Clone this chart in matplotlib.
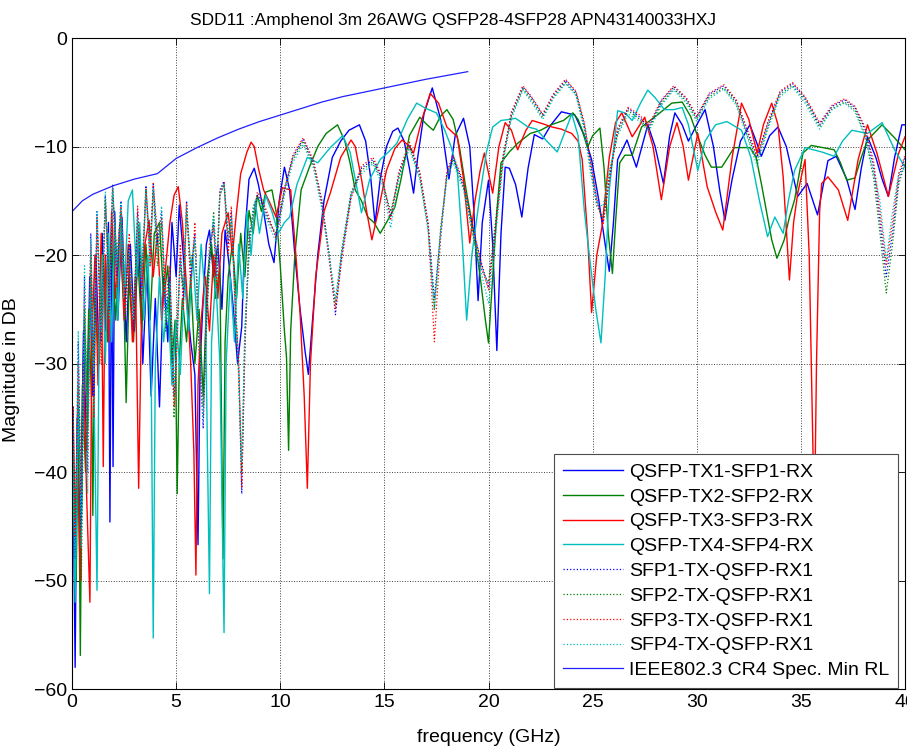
import numpy as np
import matplotlib
matplotlib.use('Agg')
import matplotlib.pyplot as plt

plt.rcParams['font.family'] = ['Liberation Sans', 'DejaVu Sans']

# (frequency GHz, magnitude dB)
tx1 = [(0.05,-40),(0.15,-58),(0.25,-35),(0.4,-46),(0.55,-27),(0.7,-38),(0.85,-22),(1.0,-33),(1.15,-20),(1.3,-30),
       (1.45,-18),(1.6,-27),(1.75,-17),(1.82,-44.6),(1.9,-18),(1.97,-39.5),(2.05,-16),(2.2,-26),(2.4,-16.5),(2.6,-28),
       (2.8,-19),(3.0,-27),(3.2,-18),(3.4,-30),(3.6,-21),(3.8,-33),(4.0,-24),(4.2,-34),(4.4,-22),(4.6,-28),
       (4.8,-17),(5.0,-22),(5.15,-15.4),(5.3,-19),(5.5,-24),(5.7,-28),(5.9,-31),(6.05,-46.7),(6.15,-30),(6.3,-24),
       (6.45,-19),(6.6,-17.7),(6.8,-22),(7.0,-19),(7.2,-25),(7.35,-17.7),(7.55,-21),(7.75,-25),(7.95,-30),(8.15,-26.6),
       (8.3,-18),(8.5,-13),(8.75,-12),(8.95,-13.5),(9.2,-16),(9.45,-19),(9.7,-20.7),(9.95,-15),(10.2,-11.9),(10.45,-14),
       (10.7,-20),(10.95,-25),(11.2,-29),(11.35,-31),(11.55,-26),(11.8,-20),(12.1,-15),(12.5,-11),(12.9,-9.5),(13.3,-8.5),
       (13.8,-8.0),(14.1,-9.5),(14.35,-13),(14.55,-17.1),(14.8,-13),(15.1,-10),(15.4,-8.6),(15.65,-8.3),(15.95,-9.5),(16.2,-12),
       (16.4,-14.3),(16.6,-11),(16.9,-7),(17.3,-4.6),(17.7,-7.5),(18.1,-13.0),(18.4,-9),(18.8,-7.4),(19.1,-10),(19.3,-16),
       (19.5,-24.2),(19.7,-17),(20.0,-13.1),(20.2,-19),(20.4,-28.8),(20.6,-18),(20.8,-11.9),(21.0,-12),(21.3,-13.5),(21.6,-16.5),
       (21.9,-12),(22.2,-8.9),(22.6,-9.3),(23.0,-8.0),(23.5,-6.8),(24.15,-7.1),(24.6,-9),(24.95,-11.2),(25.3,-15),(25.6,-19),
       (25.8,-21.5),(26.0,-17),(26.2,-11.2),(26.65,-9.4),(27.1,-11.9),(27.65,-8.0),(28.0,-10),(28.4,-13.4),(28.7,-9),(28.95,-6.9),
       (29.3,-8),(29.6,-9.5),(30.0,-8),(30.4,-6.6),(30.8,-10),(31.1,-14),(31.35,-16.8),(31.7,-13),(32.1,-9.5),(32.55,-8.0),
       (32.85,-9.5),(33.1,-10.9),(33.5,-9),(33.9,-8.2),(34.3,-10),(34.6,-12.5),(34.85,-14.6),(35.3,-13.4),(35.8,-16.3),(36.3,-11.3),
       (36.7,-10.9),(37.2,-13),(37.6,-15.8),(37.9,-12),(38.2,-9.1),(38.6,-11),(38.9,-13),(39.2,-14.6),(39.5,-11),(39.85,-8.0),(40.0,-8.0)]

tx2 = [(0.05,-42),(0.2,-50),(0.3,-35),(0.4,-56.9),(0.5,-32),(0.65,-40),(0.8,-25),(0.95,-34),(1.0,-44),(1.1,-24),
       (1.3,-30),(1.5,-20),(1.7,-28),(1.9,-19),(2.1,-26),(2.3,-18),(2.5,-25),(2.6,-33.6),(2.75,-22),(2.95,-28),
       (3.15,-20),(3.35,-27),(3.55,-19),(3.75,-26),(3.95,-18),(4.2,-17),(4.4,-24),(4.6,-21),(4.8,-30),(4.95,-26),
       (5.05,-42),(5.15,-30),(5.3,-24),(5.5,-28),(5.7,-22),(5.9,-30),(6.1,-25),(6.3,-33),(6.5,-22),(6.7,-19),
       (6.9,-24),(7.1,-21),(7.25,-48),(7.35,-28),(7.5,-22),(7.7,-19),(7.9,-24),(8.1,-18),(8.3,-22),(8.5,-15.9),
       (8.7,-18),(8.9,-14.5),(9.1,-16),(9.3,-14.2),(9.6,-14),(9.8,-16),(10.0,-21),(10.2,-27),(10.3,-29.4),(10.4,-38),
       (10.5,-27),(10.7,-20),(11.0,-14),(11.4,-11.9),(11.8,-10),(12.2,-8.8),(12.75,-8.0),(13.1,-9.5),(13.35,-11.5),(13.6,-14),
       (13.9,-15),(14.2,-16.5),(14.5,-17),(14.8,-18),(15.1,-17),(15.5,-15.6),(15.8,-13),(16.2,-9),(16.7,-7.3),(17.05,-8),
       (17.35,-8.5),(17.7,-7.2),(18.0,-6.6),(18.3,-7.5),(18.6,-10),(18.95,-14.3),(19.3,-18),(19.6,-22),(19.85,-26),(20.0,-28.1),
       (20.2,-22),(20.4,-16),(20.6,-11.5),(21.0,-10.5),(21.4,-9.7),(22.0,-8.8),(22.5,-8.5),(23.0,-8),(23.6,-7.6),(24.05,-6.9),
       (24.3,-7.5),(24.5,-8.5),(24.75,-10.1),(25.0,-9.0),(25.35,-8.3),(25.55,-12),(25.75,-18),(25.95,-21.7),(26.1,-17),(26.3,-11.5),
       (26.55,-10.8),(26.9,-10.8),(27.35,-8.2),(28.1,-7.1),(28.8,-6.0),(29.3,-5.9),(29.7,-7.2),(30.05,-9.1),(30.4,-10.8),(30.7,-11.9),
       (31.2,-11.9),(31.8,-10.1),(32.55,-10.1),(32.85,-11),(33.1,-13.4),(33.35,-16),(33.6,-18.6),(33.85,-20.3),(34.2,-18.6),(34.45,-16.5),
       (34.7,-14.9),(35.1,-10.6),(35.5,-9.9),(36.05,-10.1),(36.6,-10.3),(36.9,-11.5),(37.2,-13.1),(37.6,-12.9),(37.9,-11),(38.2,-9.4),
       (38.9,-8.0),(39.5,-9.2),(40.0,-10.3)]

tx3 = [(0.05,-34),(0.15,-46),(0.25,-38),(0.4,-50),(0.55,-30),(0.7,-42),(0.86,-52),(0.95,-28),(1.1,-20),(1.25,-32),
       (1.4,-18),(1.5,-39.5),(1.6,-20),(1.75,-28),(1.9,-16),(2.1,-24),(2.3,-17),(2.5,-26),(2.7,-19),(2.9,-28),
       (3.05,-22),(3.2,-41.5),(3.35,-24),(3.5,-19),(3.7,-16.8),(3.9,-22),(4.1,-18),(4.3,-26),(4.5,-21),(4.7,-17),
       (4.9,-14.5),(5.1,-13.7),(5.3,-17),(5.5,-23),(5.7,-30),(5.85,-38),(5.95,-49.5),(6.05,-32),(6.2,-26),(6.4,-22),
       (6.6,-27),(6.8,-20),(7.0,-24),(7.2,-18),(7.5,-16.1),(7.7,-20),(7.9,-16),(8.1,-12.5),(8.4,-10.5),(8.6,-9.6),
       (8.75,-10.0),(8.95,-12),(9.2,-14),(9.5,-15.2),(9.8,-16.5),(10.1,-13.8),(10.5,-14),(10.75,-20),(10.95,-25.3),(11.15,-33),
       (11.3,-41.5),(11.45,-30),(11.7,-22),(12.1,-16),(12.4,-14.3),(12.9,-11),(13.4,-9.4),(13.6,-10),(13.9,-13),(14.15,-16),
       (14.4,-18.6),(14.7,-16),(15.1,-12.2),(15.5,-10.2),(15.85,-9.4),(16.1,-9.8),(16.4,-10.6),(16.8,-7.5),(17.2,-5.1),(17.6,-6.0),
       (18.0,-8.2),(18.5,-9.1),(18.8,-13),(19.1,-18.9),(19.35,-15),(19.6,-12.2),(19.8,-10.6),(20.2,-14.3),(20.5,-10),(20.8,-7.8),
       (21.1,-8.5),(21.4,-10.3),(21.8,-8.5),(22.1,-7.6),(22.6,-7.9),(23.05,-8.2),(23.5,-8.4),(24.0,-8.8),(24.3,-9.5),(24.5,-11.2),
       (24.75,-18),(24.95,-25.3),(25.2,-20),(25.45,-17.4),(25.8,-11),(26.1,-7.8),(26.4,-6.9),(26.9,-9.1),(27.5,-7.3),(27.9,-10),
       (28.3,-14.9),(28.7,-10),(29.05,-7.8),(29.35,-10),(29.6,-13.1),(30.05,-8.8),(30.5,-13.7),(30.9,-16),(31.25,-17.7),(31.7,-11),
       (32.15,-6.0),(32.5,-7.5),(32.9,-10.6),(33.2,-8),(33.6,-6.0),(33.9,-8),(34.15,-12.8),(34.45,-22.3),(34.65,-17),(34.85,-14.3),
       (35.2,-11.2),(35.4,-20),(35.55,-35),(35.65,-45),(35.75,-30),(35.9,-16),(36.0,-13.4),(36.3,-12.8),(36.8,-14.0),(37.25,-16.8),
       (37.75,-11.2),(38.2,-8.0),(38.65,-10.6),(39.2,-14.6),(39.7,-10.6),(40.0,-9.1)]

tx4 = [(0.05,-38),(0.15,-52),(0.3,-34),(0.45,-44),(0.6,-26),(0.75,-36),(0.9,-22),(1.05,-32),(1.2,-50.9),(1.3,-28),
       (1.45,-20),(1.6,-30),(1.75,-18),(1.9,-28),(2.05,-17),(2.2,-26),(2.35,-16),(2.5,-24),(2.7,-15),(2.9,-14),
       (3.1,-22),(3.25,-17),(3.45,-26),(3.65,-20),(3.8,-30),(3.9,-55.3),(4.0,-30),(4.2,-22),(4.4,-28),(4.6,-24),
       (4.8,-32),(5.0,-26),(5.2,-31),(5.4,-22),(5.6,-27),(5.8,-20),(6.0,-26),(6.2,-19),(6.4,-24),(6.6,-51.2),
       (6.7,-28),(6.9,-22),(7.1,-30),(7.3,-54.8),(7.4,-30),(7.6,-22),(7.8,-28),(8.0,-19),(8.2,-24),(8.4,-16),
       (8.6,-20),(8.8,-15),(9.0,-18),(9.3,-14.5),(9.6,-16),(9.9,-18),(10.2,-17),(10.45,-16.5),(10.8,-13.5),(11.3,-11),
       (11.8,-11.5),(12.4,-10.1),(13.0,-9.0),(13.35,-10.5),(13.7,-14),(13.9,-16.1),(14.3,-13),(14.8,-11.2),(15.2,-10.5),(15.6,-9.7),
       (16.1,-7.5),(16.55,-6.0),(17.0,-6.5),(17.5,-6.9),(17.9,-8.5),(18.2,-10),(18.5,-12.2),(18.75,-19),(18.95,-26.0),(19.2,-20),
       (19.6,-14.3),(19.9,-10.5),(20.2,-8.2),(20.6,-7.6),(21.0,-7.5),(21.3,-7.4),(21.9,-8.2),(22.3,-8.4),(22.8,-9.5),(23.3,-10.5),
       (23.6,-9),(24.0,-7.0),(24.3,-9),(24.6,-15.9),(24.9,-21),(25.15,-25),(25.4,-28.1),(25.6,-22),(25.8,-14),(26.2,-6.7),
       (26.55,-6.9),(26.9,-7.6),(27.3,-6),(27.65,-4.8),(28.0,-5.5),(28.45,-6.6),(28.9,-6.6),(29.3,-6.4),(29.6,-8),(30.05,-12.2),
       (30.4,-9.5),(30.9,-8),(31.45,-7.7),(32.15,-8.5),(32.6,-11),(33.0,-14.9),(33.4,-18.3),(33.75,-16.5),(34.15,-18.0),(34.4,-15),
       (34.7,-12.2),(35.2,-10.1),(36.0,-10.5),(36.6,-10.9),(37.0,-9.5),(37.45,-8.5),(38.2,-8.8),(38.9,-7.8),(39.5,-10.3),(40.0,-11.9)]

# SFP -> QSFP traces share one frequency grid
f_sfp = [0.05, 0.15, 0.3, 0.45, 0.6, 0.75, 0.9, 1.05, 1.2, 1.4,
         1.6, 1.8, 1.95, 2.15, 2.35, 2.55, 2.75, 2.95, 3.15, 3.35,
         3.55, 3.75, 3.9, 4.1, 4.3, 4.5, 4.7, 4.9, 5.05, 5.2,
         5.35, 5.5, 5.7, 5.9, 6.1, 6.3, 6.45, 6.6, 6.8, 6.95,
         7.1, 7.3, 7.5, 7.65, 7.85, 8.0, 8.15, 8.3, 8.5, 8.7,
         8.9, 9.1, 9.4, 9.8, 10.2, 10.6, 11.1, 11.6, 12.0, 12.35,
         12.65, 12.95, 13.4, 13.9, 14.45, 14.9, 15.3, 15.7, 16.2, 16.7,
         17.1, 17.4, 17.7, 18.0, 18.3, 18.8, 19.3, 19.7, 20.0, 20.3,
         20.7, 21.1, 21.65, 22.1, 22.6, 23.1, 23.7, 24.2, 24.6, 24.9,
         25.2, 25.5, 25.8, 26.2, 26.7, 27.2, 27.7, 28.3, 28.9, 29.5,
         30.0, 30.6, 31.3, 31.9, 32.4, 32.9, 33.4, 34.0, 34.6, 35.2,
         35.9, 36.5, 37.1, 37.6, 38.1, 38.5, 38.8, 39.1, 39.4, 39.7,
         40.0]

sfp1 = [-34, -48, -28, -45, -22, -40, -18, -33, -16, -28,
        -14.5, -25, -13.5, -22, -15, -24, -19, -27, -16, -23,
        -13.6, -20, -13.5, -19, -16, -25, -22, -33, -27, -20,
        -24, -15, -22, -18, -28, -36, -26, -20, -17, -22,
        -14, -13.2, -19, -16, -25, -30, -42, -28, -19, -16,
        -14.5, -15, -16.5, -18.3, -14, -11, -9.3, -11.5, -15, -20,
        -25.5, -20, -14.5, -12, -11.2, -13, -16.5, -12.5, -9.8, -12.5,
        -17, -24, -18, -12.5, -11, -13.5, -18, -21, -23, -18,
        -11, -7, -4.5, -5.6, -7.1, -5.3, -3.9, -5, -8, -11.5,
        -15, -17, -13, -8.5, -6.5, -7.2, -8.2, -5.8, -4.5, -5.6,
        -7.3, -5.2, -4.4, -5.8, -8.5, -11, -8, -5, -4.2, -5.5,
        -8.0, -6.3, -5.7, -6.4, -8.5, -12, -17, -22, -18, -13,
        -11]

sfp2 = [-38, -44, -32, -50, -25, -36, -20, -30, -17, -26,
        -15, -23, -14, -20, -16, -26, -20, -25, -17, -22,
        -14, -19, -14, -21, -17, -27, -23, -35, -26, -21,
        -23, -16, -21, -19, -27, -34, -27, -21, -16, -21,
        -14.5, -13.5, -18, -17, -24, -31, -40, -27, -20, -15.5,
        -14.8, -15.2, -16.8, -18, -13.8, -11.2, -9.5, -11.8, -15.5, -20,
        -24.5, -19.5, -14.2, -12.2, -11.4, -13.2, -16, -12.8, -10, -12.8,
        -17.5, -25, -17.5, -12.8, -11.2, -13.8, -18.5, -21.5, -22.5, -17.5,
        -10.8, -7.2, -4.7, -5.8, -7.3, -5.5, -4.1, -5.2, -8.2, -12,
        -15.5, -16.5, -12.5, -8.8, -6.7, -7.4, -8.4, -6, -4.7, -5.8,
        -7.5, -5.4, -4.6, -6, -8.8, -11.3, -8.2, -5.2, -4.4, -5.7,
        -8.2, -6.5, -5.9, -6.6, -9, -13, -18, -23.5, -19, -13.5,
        -11.5]

sfp3 = [-36, -46, -30, -42, -23, -38, -19, -35, -16.5, -30,
        -14.8, -24, -13.8, -23, -15.5, -25, -18, -28, -15.5, -24,
        -13.8, -21, -13.4, -18, -16.5, -24, -21, -34, -28, -19,
        -25, -15.2, -23, -17, -29, -35, -25, -19, -17.5, -23,
        -14.2, -13.4, -20, -15.5, -26, -29, -41.5, -29, -18, -16.5,
        -14.2, -14.8, -16.2, -18.5, -14.2, -10.8, -9.2, -11.3, -15.2, -20.5,
        -25, -20.5, -14.8, -11.8, -11, -12.8, -16.8, -12.3, -9.6, -12.3,
        -17.2, -28, -18.5, -12.3, -10.8, -13.3, -17.8, -21.2, -23.2, -18.2,
        -11.2, -6.8, -4.4, -5.5, -7, -5.2, -3.8, -4.9, -7.8, -11.3,
        -14.8, -17.2, -13.2, -8.3, -6.4, -7, -8, -5.7, -4.4, -5.5,
        -7.2, -5.1, -4.3, -5.7, -8.3, -10.8, -7.8, -4.9, -4.1, -5.4,
        -7.8, -6.2, -5.6, -6.3, -8.3, -11.5, -16, -21, -17, -12.5,
        -10.8]

sfp4 = [-35, -50, -27, -47, -21, -42, -18.5, -31, -16, -27,
        -14.2, -26, -13.8, -21, -15.2, -23, -19.5, -26, -16.5, -22,
        -13.9, -21, -13.8, -20, -15.5, -26, -22.5, -32, -28, -20.5,
        -23, -15.5, -21, -18.5, -27, -35, -27, -20, -16.5, -22,
        -14.5, -13.4, -18.5, -16.5, -25, -31, -39, -27, -19.5, -16,
        -14.8, -15.5, -17, -18.8, -14.5, -11.5, -9.8, -12, -15.8, -20.2,
        -24, -19.8, -14.5, -12.5, -11.6, -13.5, -17.5, -13, -10.2, -13,
        -17.8, -25, -18.2, -13, -11.5, -14, -18.8, -22, -24.5, -19,
        -11.5, -7.4, -4.8, -6, -7.5, -5.6, -4.2, -5.3, -8.5, -12.5,
        -15.2, -15.5, -12.2, -9, -7, -7.6, -8.6, -6.2, -4.8, -6,
        -7.7, -5.6, -4.7, -6.2, -9, -11.8, -8.5, -5.4, -4.5, -6,
        -8.4, -6.6, -6, -6.8, -9.2, -12.5, -15, -20.5, -16, -12.5,
        -12]

# IEEE802.3 CR4 minimum return loss mask
f_spec = [0.0, 0.5, 1.0, 2.0, 3.0, 4.1, 5.0, 6.0, 7.0, 8.0, 9.0, 10.0,
          11.0, 12.0, 13.0, 14.0, 15.0, 16.0, 17.0, 18.0, 19.0]
db_spec = [-16.0, -15.0, -14.4, -13.6, -13.0, -12.5, -11.1, -10.1, -9.2, -8.4, -7.7, -7.1,
           -6.5, -5.9, -5.4, -5.0, -4.6, -4.2, -3.8, -3.45, -3.1]

labels = ['QSFP-TX1-SFP1-RX', 'QSFP-TX2-SFP2-RX', 'QSFP-TX3-SFP3-RX', 'QSFP-TX4-SFP4-RX',
          'SFP1-TX-QSFP-RX1', 'SFP2-TX-QSFP-RX1', 'SFP3-TX-QSFP-RX1', 'SFP4-TX-QSFP-RX1',
          'IEEE802.3 CR4 Spec. Min RL']
colors = ['#0000ff', '#008000', '#ff0000', '#00bfbf']

fig = plt.figure(figsize=(9.07, 7.5), dpi=100)
ax = fig.add_axes([0.0794, 0.0813, 0.9184, 0.868])

for data, c, lab in zip([tx1, tx2, tx3, tx4], colors, labels[:4]):
    d = np.array(data)
    ax.plot(d[:, 0], d[:, 1], color=c, lw=1.0, label=lab)

for vals, c, lab in zip([sfp1, sfp2, sfp3, sfp4], colors, labels[4:8]):
    ax.plot(f_sfp, vals, color=c, lw=0.9, ls=':', label=lab)

ax.plot(f_spec, db_spec, color='#2020ff', lw=0.9, label=labels[8])

ax.set_xlim(0, 40)
ax.set_ylim(-60, 0)
ax.set_xticks(np.arange(0, 41, 5))
ax.set_yticks(np.arange(-60, 1, 10))
ax.tick_params(direction='in', top=True, right=True, length=5, labelsize=14, width=0.6)
ax.grid(True, ls=':', color='0.25', lw=0.7)
for s in ax.spines.values():
    s.set_linewidth(0.8)

ax.set_xlabel('frequency (GHz)', fontsize=14, labelpad=13)
ax.set_ylabel('Magnitude in DB', fontsize=14)
ax.yaxis.set_label_coords(-0.062, 0.49)
fig.text(0.5, 0.966, 'SDD11 :Amphenol 3m 26AWG QSFP28-4SFP28 APN43140033HXJ',
         ha='center', va='baseline', fontsize=12.5)

leg = ax.legend(loc='lower right', bbox_to_anchor=(0.9916, 0.0015), borderaxespad=0,
                fontsize=14, handlelength=3.1, labelspacing=0.37, fancybox=False,
                framealpha=1, edgecolor='0.3', borderpad=0.45, handletextpad=0.3)
leg.get_frame().set_linewidth(0.8)

fig.savefig('out.png', dpi=100)
